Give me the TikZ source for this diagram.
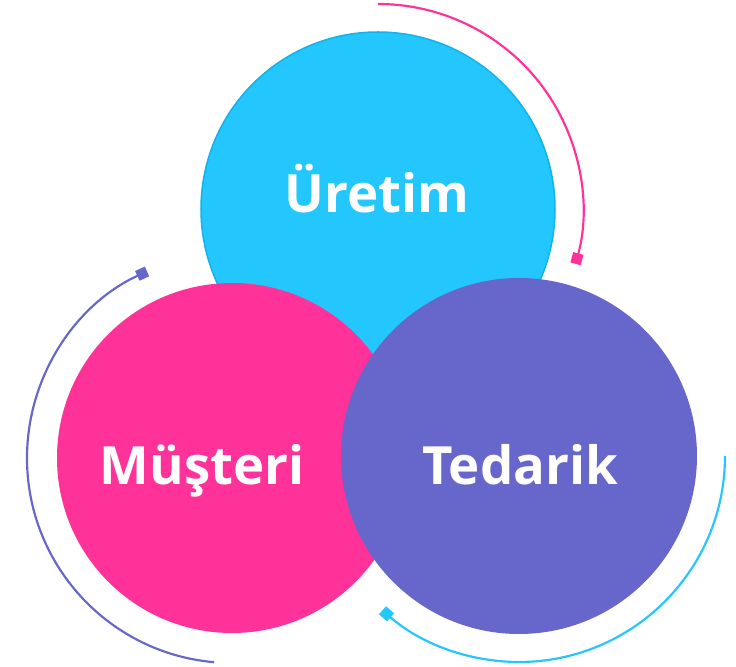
\documentclass[tikz,border=0pt]{standalone}
\usepackage{fontspec}
\setmainfont{Open Sans}
\usetikzlibrary{arrows.meta}
\definecolor{sky}{HTML}{24C6FE}
\definecolor{skyedge}{HTML}{12B2EA}
\definecolor{rose}{HTML}{FE3298}
\definecolor{iris}{HTML}{6766CB}
\begin{document}
\begin{tikzpicture}[x=0.3mm, y=0.3mm,
    ball/.style={circle, inner sep=0pt, minimum size=#1},
    ring/.style={line width=0.65mm, -{Square[length=3.2mm, width=3.2mm]}},
    word/.style={text=white, font=\bfseries\fontsize{45}{45}\selectfont, anchor=base}]
    \useasboundingbox (0,0) rectangle (736,667);
    % the three circles, later ones on top
    \node[ball=106.2mm, fill=sky, draw=skyedge, line width=0.45mm] (uretim) at (378,458) {};
    \node[ball=105mm, fill=rose] (musteri) at (232,209) {};
    \node[ball=106.8mm, fill=iris] (tedarik) at (519,211) {};
    % rings around each circle, ending in a small square
    \draw[ring, rose] ([shift={(90:205)}]uretim.center) arc[start angle=90, end angle=-15.5, radius=205];
    \draw[ring, iris] ([shift={(265:205)}]musteri.center) arc[start angle=265, end angle=114.5, radius=205];
    \draw[ring, sky] ([shift={(0:206)}]tedarik.center) arc[start angle=0, end angle=-131.5, radius=206];
    % labels
    \node[word] (uretimtext) at (377,454) {Üretim};
    \node[word] (musteritext) at (202,182) {Müşteri};
    \node[word] (tedariktext) at (520,182) {Tedarik};
\end{tikzpicture}
\end{document}
